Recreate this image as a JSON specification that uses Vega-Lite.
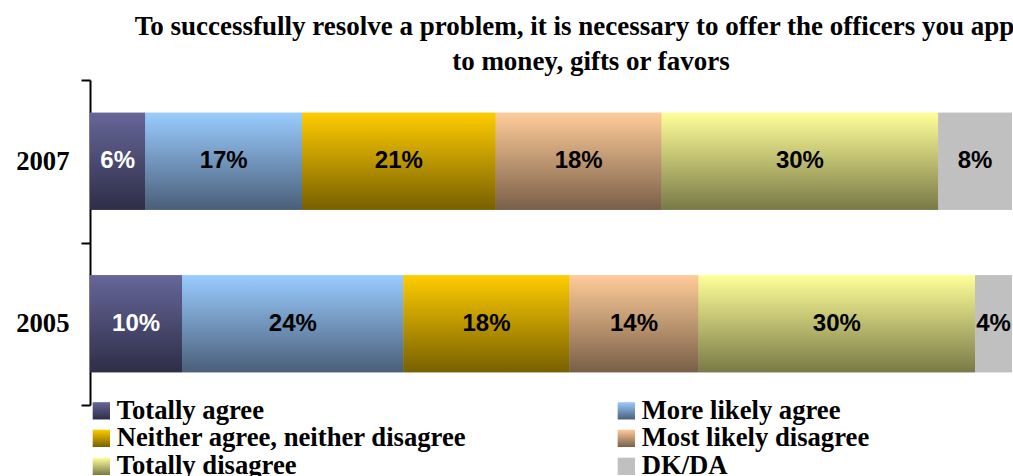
{
  "$schema": "https://vega.github.io/schema/vega-lite/v6.json",
  "autosize": {"type": "none"},
  "padding": {"left": 90, "top": 80, "right": 1, "bottom": 71},
  "width": 922,
  "height": 325,
  "background": "white",
  "config": {"view": {"stroke": null}},
  "title": {
    "text": ["To successfully resolve a problem, it is necessary to offer the officers you appeal", "to money, gifts or favors"],
    "font": "Liberation Serif",
    "fontSize": 27,
    "fontWeight": "bold",
    "color": "black",
    "anchor": "middle",
    "frame": "group",
    "dx": 40,
    "dy": 19,
    "lineHeight": 35,
    "offset": 10
  },
  "data": {
    "values": [
      {"year": "2007", "cat": "Totally agree", "idx": 1, "value": 6},
      {"year": "2007", "cat": "More likely agree", "idx": 2, "value": 17},
      {"year": "2007", "cat": "Neither agree, neither disagree", "idx": 3, "value": 21},
      {"year": "2007", "cat": "Most likely disagree", "idx": 4, "value": 18},
      {"year": "2007", "cat": "Totally disagree", "idx": 5, "value": 30},
      {"year": "2007", "cat": "DK/DA", "idx": 6, "value": 8},
      {"year": "2005", "cat": "Totally agree", "idx": 1, "value": 10},
      {"year": "2005", "cat": "More likely agree", "idx": 2, "value": 24},
      {"year": "2005", "cat": "Neither agree, neither disagree", "idx": 3, "value": 18},
      {"year": "2005", "cat": "Most likely disagree", "idx": 4, "value": 14},
      {"year": "2005", "cat": "Totally disagree", "idx": 5, "value": 30},
      {"year": "2005", "cat": "DK/DA", "idx": 6, "value": 4}
    ]
  },
  "transform": [
    {"stack": "value", "groupby": ["year"], "sort": [{"field": "idx", "order": "ascending"}], "as": ["x0", "x1"]},
    {"calculate": "(datum.x0 + datum.x1) / 2", "as": "mid"},
    {"calculate": "datum.value + '%'", "as": "label"}
  ],
  "encoding": {
    "y": {
      "field": "year",
      "type": "nominal",
      "sort": ["2007", "2005"],
      "scale": {"paddingInner": 0, "paddingOuter": 0},
      "axis": {
        "title": null,
        "domainColor": "black",
        "domainWidth": 2,
        "tickColor": "black",
        "tickWidth": 2,
        "tickSize": 9,
        "tickBand": "extent",
        "labelFont": "Liberation Serif",
        "labelFontSize": 26.67,
        "labelFontWeight": "bold",
        "labelColor": "black",
        "labelPadding": 12
      }
    },
    "x": {"field": "x0", "type": "quantitative", "scale": {"domain": [0, 100], "nice": false}, "axis": null},
    "x2": {"field": "x1"}
  },
  "layer": [
    {
      "mark": {
        "type": "bar",
        "strokeWidth": 0,
        "height": {"band": 0.597},
        "fill": {"expr": "(datum.cat || datum.value) === 'Totally agree' ? {gradient: 'linear', x1: 0, y1: 0, x2: 0, y2: 1, stops: [{offset: 0, color: '#666699'}, {offset: 1, color: '#2e2e48'}]} : (datum.cat || datum.value) === 'More likely agree' ? {gradient: 'linear', x1: 0, y1: 0, x2: 0, y2: 1, stops: [{offset: 0, color: '#99ccff'}, {offset: 1, color: '#4a5f79'}]} : (datum.cat || datum.value) === 'Neither agree, neither disagree' ? {gradient: 'linear', x1: 0, y1: 0, x2: 0, y2: 1, stops: [{offset: 0, color: '#ffcc00'}, {offset: 1, color: '#776000'}]} : (datum.cat || datum.value) === 'Most likely disagree' ? {gradient: 'linear', x1: 0, y1: 0, x2: 0, y2: 1, stops: [{offset: 0, color: '#ffcc99'}, {offset: 1, color: '#795f48'}]} : (datum.cat || datum.value) === 'Totally disagree' ? {gradient: 'linear', x1: 0, y1: 0, x2: 0, y2: 1, stops: [{offset: 0, color: '#ffff99'}, {offset: 1, color: '#797947'}]} : '#c0c0c0'"}
      },
      "encoding": {
        "stroke": {
          "field": "cat",
          "type": "nominal",
          "sort": ["Totally agree", "More likely agree", "Neither agree, neither disagree", "Most likely disagree", "Totally disagree", "DK/DA"],
          "scale": {
            "domain": ["Totally agree", "More likely agree", "Neither agree, neither disagree", "Most likely disagree", "Totally disagree", "DK/DA"],
            "range": ["#4a4a70", "#7296bd", "#b89400", "#bd9470", "#bdbd70", "#c0c0c0"]
          },
          "legend": {
            "title": null,
            "orient": "none",
            "legendX": -2,
            "legendY": 317,
            "direction": "horizontal",
            "columns": 2,
            "columnPadding": 146,
            "rowPadding": 0,
            "padding": 0,
            "symbolType": "square",
            "symbolSize": 300,
            "symbolStrokeWidth": 0,
            "symbolOpacity": 1,
            "labelFont": "Liberation Serif",
            "labelFontSize": 26.67,
            "labelFontWeight": "bold",
            "labelColor": "black",
            "labelOffset": 2,
            "labelLimit": 600
          }
        }
      }
    },
    {
      "transform": [{"filter": "datum.cat === 'Totally agree'"}],
      "mark": {"type": "bar", "strokeWidth": 0, "height": {"band": 0.597}, "color": {"gradient": "linear", "x1": 0, "y1": 0, "x2": 0, "y2": 1, "stops": [{"offset": 0, "color": "#666699"}, {"offset": 1, "color": "#2e2e48"}]}}
    },
    {
      "transform": [{"filter": "datum.cat === 'More likely agree'"}],
      "mark": {"type": "bar", "strokeWidth": 0, "height": {"band": 0.597}, "color": {"gradient": "linear", "x1": 0, "y1": 0, "x2": 0, "y2": 1, "stops": [{"offset": 0, "color": "#99ccff"}, {"offset": 1, "color": "#4a5f79"}]}}
    },
    {
      "transform": [{"filter": "datum.cat === 'Neither agree, neither disagree'"}],
      "mark": {"type": "bar", "strokeWidth": 0, "height": {"band": 0.597}, "color": {"gradient": "linear", "x1": 0, "y1": 0, "x2": 0, "y2": 1, "stops": [{"offset": 0, "color": "#ffcc00"}, {"offset": 1, "color": "#776000"}]}}
    },
    {
      "transform": [{"filter": "datum.cat === 'Most likely disagree'"}],
      "mark": {"type": "bar", "strokeWidth": 0, "height": {"band": 0.597}, "color": {"gradient": "linear", "x1": 0, "y1": 0, "x2": 0, "y2": 1, "stops": [{"offset": 0, "color": "#ffcc99"}, {"offset": 1, "color": "#795f48"}]}}
    },
    {
      "transform": [{"filter": "datum.cat === 'Totally disagree'"}],
      "mark": {"type": "bar", "strokeWidth": 0, "height": {"band": 0.597}, "color": {"gradient": "linear", "x1": 0, "y1": 0, "x2": 0, "y2": 1, "stops": [{"offset": 0, "color": "#ffff99"}, {"offset": 1, "color": "#797947"}]}}
    },
    {
      "transform": [{"filter": "datum.cat === 'DK/DA'"}],
      "mark": {"type": "bar", "strokeWidth": 0, "height": {"band": 0.597}, "color": "#c0c0c0"}
    },
    {
      "mark": {"type": "text", "font": "Liberation Sans", "fontSize": 24, "fontWeight": "bold", "baseline": "middle", "align": "center"},
      "encoding": {
        "x": {"field": "mid", "type": "quantitative"},
        "x2": null,
        "text": {"field": "label"},
        "color": {
          "condition": {"test": "datum.cat === 'Totally agree'", "value": "white"},
          "value": "black"
        }
      }
    }
  ]
}
